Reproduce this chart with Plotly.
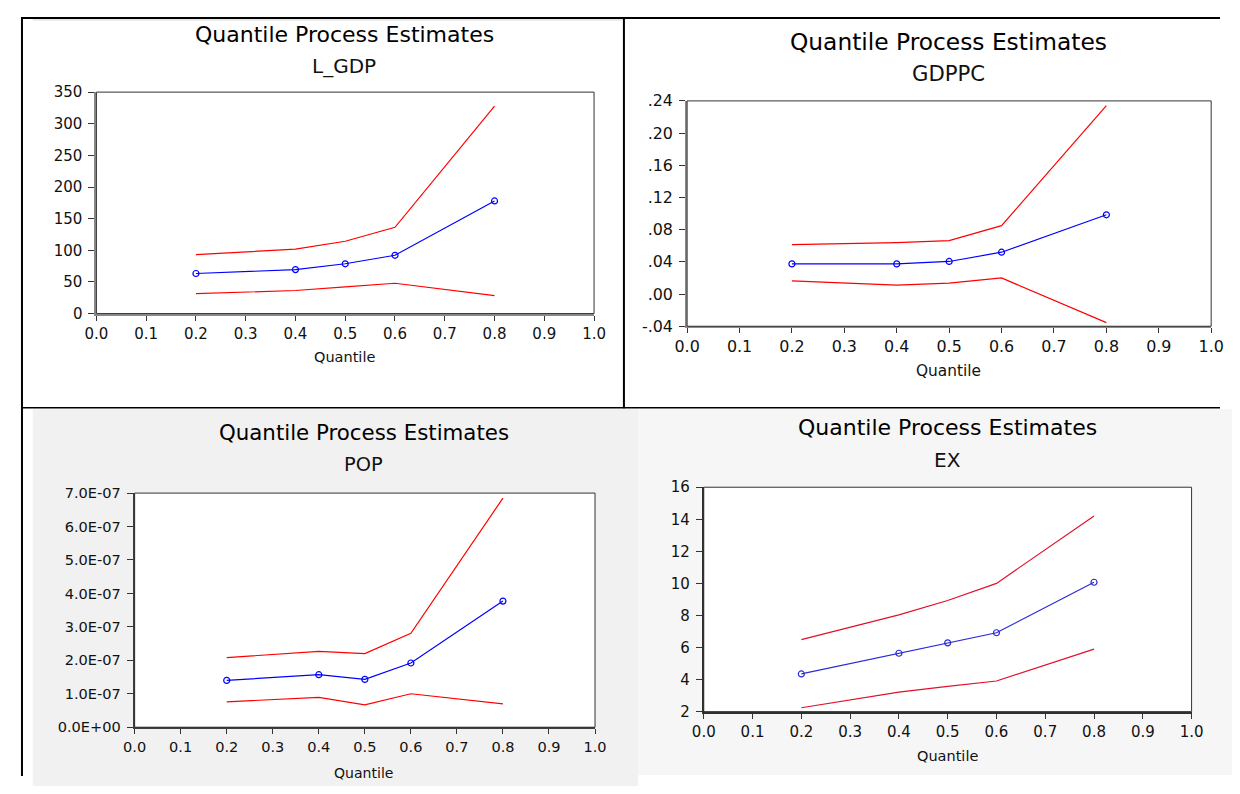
import plotly.graph_objects as go

# page is 1240x794; the browser body keeps its default 8px margin,
# so the figure is sized to fit exactly inside it.
PAGE_W, PAGE_H = 1240, 794
OFF = 8
W, H = PAGE_W - 2 * OFF, PAGE_H - 2 * OFF

# ---------------- data ----------------
quantiles = [0.2, 0.4, 0.5, 0.6, 0.8]

lgdp_est = [63.3, 69.5, 78.7, 92.1, 178.0]
lgdp_upper = [93.2, 101.9, 114.3, 136.4, 327.8]
lgdp_lower = [31.4, 36.5, 42.2, 47.9, 28.3]

gdppc_est = [0.0375, 0.0375, 0.0405, 0.0520, 0.0985]
gdppc_upper = [0.0615, 0.0640, 0.0665, 0.0850, 0.2340]
gdppc_lower = [0.0165, 0.0110, 0.0135, 0.0200, -0.0355]

pop_est = [1.40e-7, 1.57e-7, 1.43e-7, 1.92e-7, 3.77e-7]
pop_upper = [2.08e-7, 2.27e-7, 2.20e-7, 2.81e-7, 6.85e-7]
pop_lower = [0.76e-7, 0.89e-7, 0.67e-7, 1.00e-7, 0.70e-7]

ex_est = [4.35, 5.64, 6.29, 6.92, 10.07]
ex_upper = [6.49, 8.04, 8.93, 10.00, 14.21]
ex_lower = [2.24, 3.22, 3.58, 3.91, 5.90]

x_tick_vals = [0.0, 0.1, 0.2, 0.3, 0.4, 0.5, 0.6, 0.7, 0.8, 0.9, 1.0]
x_tick_text = ["0.0", "0.1", "0.2", "0.3", "0.4", "0.5", "0.6", "0.7", "0.8", "0.9", "1.0"]

lgdp_tick_vals = [0, 50, 100, 150, 200, 250, 300, 350]
lgdp_tick_text = ["0", "50", "100", "150", "200", "250", "300", "350"]

gdppc_tick_vals = [-0.04, 0.00, 0.04, 0.08, 0.12, 0.16, 0.20, 0.24]
gdppc_tick_text = ["-.04", ".00", ".04", ".08", ".12", ".16", ".20", ".24"]

pop_tick_vals = [0.0, 1e-7, 2e-7, 3e-7, 4e-7, 5e-7, 6e-7, 7e-7]
pop_tick_text = ["0.0E+00", "1.0E-07", "2.0E-07", "3.0E-07", "4.0E-07", "5.0E-07", "6.0E-07", "7.0E-07"]

ex_tick_vals = [2, 4, 6, 8, 10, 12, 14, 16]
ex_tick_text = ["2", "4", "6", "8", "10", "12", "14", "16"]

main_title = "Quantile Process Estimates"
x_title = "Quantile"

FONT = "DejaVu Sans"

# panel geometry in page pixels: (left, top, right, bottom)
panels = [
    dict(name="L_GDP", box=(85, 85, 593, 312), yr=(0, 350), yv=lgdp_tick_vals, yt=lgdp_tick_text,
         est=lgdp_est, up=lgdp_upper, lo=lgdp_lower, red="#ff0000", blue="#0000ff",
         axcol="#8a8a8a", fs=1.0, title_y=26, sub_y=58, xt_y=357, cx=338),
    dict(name="GDPPC", box=(688, 94, 1223, 325), yr=(-0.04, 0.24), yv=gdppc_tick_vals, yt=gdppc_tick_text,
         est=gdppc_est, up=gdppc_upper, lo=gdppc_lower, red="#ff0000", blue="#0000ff",
         axcol="#8a8a8a", fs=1.06, title_y=33, sub_y=66, xt_y=371, cx=955),
    dict(name="POP", box=(124, 496, 594, 736), yr=(0, 7e-7), yv=pop_tick_vals, yt=pop_tick_text,
         est=pop_est, up=pop_upper, lo=pop_lower, red="#ff0000", blue="#0000ff",
         axcol="#404040", fs=0.97, title_y=434, sub_y=467, xt_y=783, cx=358),
    dict(name="EX", box=(705, 490, 1203, 720), yr=(2, 16), yv=ex_tick_vals, yt=ex_tick_text,
         est=ex_est, up=ex_upper, lo=ex_lower, red="#e0102a", blue="#2a2ad8",
         axcol="#303030", fs=1.0, title_y=429, sub_y=462, xt_y=765, cx=954),
]


def px_x(v):
    return (v - OFF) / W


def px_y(v):
    return 1 - (v - OFF) / H


fig = go.Figure()
shapes = []
annotations = []

# backgrounds of the lower panels
shapes.append(dict(type="rect", xref="paper", yref="paper", x0=px_x(20), x1=px_x(638),
                   y0=px_y(800), y1=px_y(410), fillcolor="#f1f1f1", line=dict(width=0), layer="below"))
shapes.append(dict(type="rect", xref="paper", yref="paper", x0=px_x(638), x1=px_x(1250),
                   y0=px_y(785), y1=px_y(410), fillcolor="#f6f6f6", line=dict(width=0), layer="below"))

for i, p in enumerate(panels):
    n = "" if i == 0 else str(i + 1)
    xa, ya = "x" + n, "y" + n
    l, t, r, b = p["box"]
    fs = p["fs"]
    # plot-area white background
    shapes.append(dict(type="rect", xref="paper", yref="paper", x0=px_x(l), x1=px_x(r),
                       y0=px_y(b), y1=px_y(t), fillcolor="#ffffff", line=dict(width=0), layer="below"))
    # frame
    shapes.append(dict(type="rect", xref=xa + " domain", yref=ya + " domain", x0=0, x1=1, y0=0, y1=1,
                       line=dict(color="#333333", width=1), layer="above"))

    fig.add_trace(go.Scatter(x=quantiles, y=p["up"], mode="lines", xaxis=xa, yaxis=ya,
                             line=dict(color=p["red"], width=1.2), showlegend=False))
    fig.add_trace(go.Scatter(x=quantiles, y=p["lo"], mode="lines", xaxis=xa, yaxis=ya,
                             line=dict(color=p["red"], width=1.2), showlegend=False))
    fig.add_trace(go.Scatter(x=quantiles, y=p["est"], mode="lines+markers", xaxis=xa, yaxis=ya,
                             line=dict(color=p["blue"], width=1.2),
                             marker=dict(symbol="circle-open", size=6, color=p["blue"],
                                         line=dict(width=1.2, color=p["blue"])),
                             showlegend=False))

    tickfont = dict(family=FONT, size=15 * fs, color="#111111")
    fig.layout["xaxis" + n] = dict(
        domain=[px_x(l), px_x(r)], range=[0, 1], anchor=ya,
        tickmode="array", tickvals=x_tick_vals, ticktext=x_tick_text,
        ticks="outside", ticklen=5, tickwidth=1, tickcolor="#333333",
        showline=True, linecolor=p["axcol"], linewidth=2, mirror=False,
        showgrid=False, zeroline=False, tickfont=tickfont, fixedrange=True,
    )
    fig.layout["yaxis" + n] = dict(
        domain=[px_y(b), px_y(t)], range=list(p["yr"]), anchor=xa,
        tickmode="array", tickvals=p["yv"], ticktext=p["yt"],
        ticks="outside", ticklen=6, tickwidth=1, tickcolor="#333333",
        ticklabelstandoff=3,
        showline=True, linecolor=p["axcol"], linewidth=2, mirror=False,
        showgrid=False, zeroline=False, tickfont=tickfont, fixedrange=True,
    )

    annotations.append(dict(text=main_title, x=px_x(p["cx"]), y=px_y(p["title_y"]), xref="paper", yref="paper",
                            xanchor="center", yanchor="middle", showarrow=False,
                            font=dict(family=FONT, size=22 * fs, color="#000000")))
    annotations.append(dict(text=p["name"], x=px_x(p["cx"]), y=px_y(p["sub_y"]), xref="paper", yref="paper",
                            xanchor="center", yanchor="middle", showarrow=False,
                            font=dict(family=FONT, size=20 * fs, color="#111111")))
    annotations.append(dict(text=x_title, x=px_x(p["cx"]), y=px_y(p["xt_y"]), xref="paper", yref="paper",
                            xanchor="center", yanchor="middle", showarrow=False,
                            font=dict(family=FONT, size=14.5 * fs, color="#111111")))

# outer borders / dividers
border = dict(color="#000000", width=2)
shapes += [
    dict(type="line", xref="paper", yref="paper", x0=0, x1=1, y0=px_y(9), y1=px_y(9), line=border),
    dict(type="line", xref="paper", yref="paper", x0=px_x(9), x1=px_x(9), y0=px_y(8), y1=0, line=border),
    dict(type="line", xref="paper", yref="paper", x0=px_x(623.5), x1=px_x(623.5), y0=px_y(8), y1=px_y(409),
         line=border),
    dict(type="line", xref="paper", yref="paper", x0=0, x1=1, y0=px_y(408.5), y1=px_y(408.5),
         line=dict(color="#000000", width=1.5)),
    dict(type="line", xref="paper", yref="paper", x0=px_x(20), x1=px_x(622), y0=px_y(11), y1=px_y(11),
         line=dict(color="#d4d4d4", width=1)),
]

fig.update_layout(
    width=W, height=H, autosize=False,
    margin=dict(l=0, r=0, t=0, b=0, pad=0),
    paper_bgcolor="#ffffff", plot_bgcolor="rgba(0,0,0,0)",
    shapes=shapes, annotations=annotations, showlegend=False,
    font=dict(family=FONT, color="#111111"),
)

fig.write_html("out.html", config={"displayModeBar": False})
